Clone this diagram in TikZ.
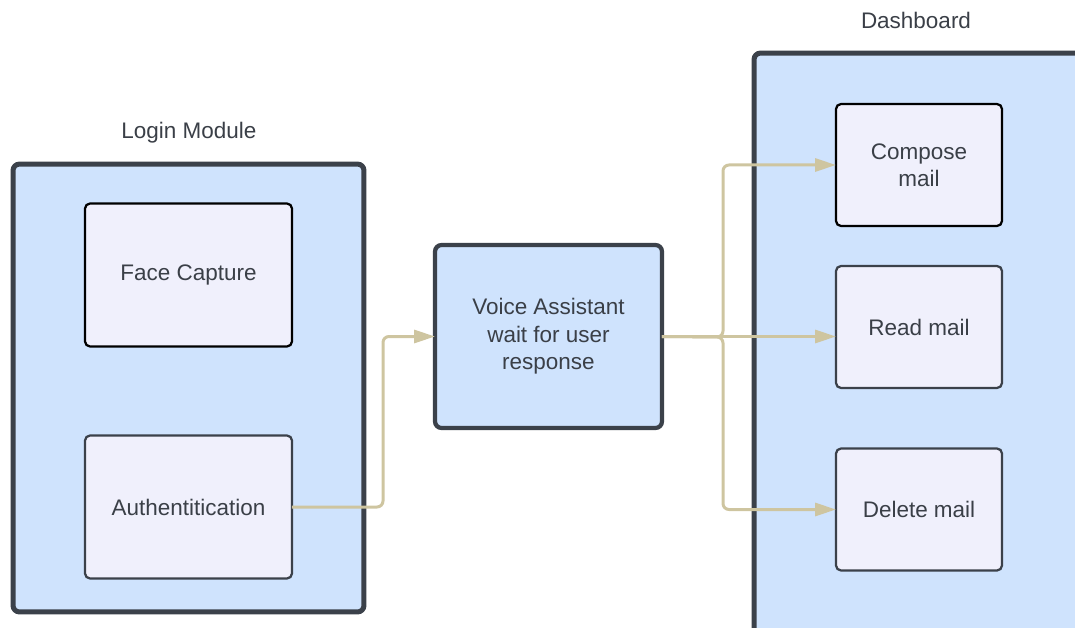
\documentclass[tikz,border=0pt]{standalone}
\usepackage{fontspec}
\setmainfont{Liberation Sans}
\usetikzlibrary{arrows.meta}
\definecolor{panelblue}{HTML}{CFE3FD}
\definecolor{cardfill}{HTML}{F0F0FC}
\definecolor{edgegray}{HTML}{3B414A}
\definecolor{inkgray}{HTML}{3A3F47}
\definecolor{wiretan}{HTML}{CEC5A0}
\begin{document}
\begin{tikzpicture}[x=0.02cm,y=-0.02cm,
    every node/.style={font=\fontsize{12.8}{15.6}\selectfont, text=inkgray, align=center, inner sep=0pt, outer sep=0pt},
    panel/.style={draw=edgegray, fill=panelblue, line width=0.1cm, rounded corners=0.13cm},
    card/.style={draw=edgegray, fill=cardfill, line width=0.045cm, rounded corners=0.1cm},
    cardwide/.style={card, minimum width=4.14cm, minimum height=2.86cm},
    cardsmall/.style={card, minimum width=3.32cm, minimum height=2.44cm},
    wire/.style={draw=wiretan, line width=0.06cm, rounded corners=0.12cm, -{Triangle[length=0.42cm,width=0.26cm]}}]
    \useasboundingbox (0,0) rectangle (1075,628);
    \clip (0,0) rectangle (1075,628);
    % login module
    \node at (189,133) (loginlbl) {Login Module};
    \node[panel, minimum width=7.02cm, minimum height=8.96cm] (login) at (188.5,388) {};
    \node[cardwide, draw=black] (face) at (188.5,275) {Face Capture};
    \node[cardwide] (auth) at (188.5,507) {Authentitication};
    % voice assistant
    \node[panel, line width=0.085cm, minimum width=4.54cm, minimum height=3.66cm] (voice) at (548.5,336.5)
        {Voice Assistant\\wait for user\\response};
    % dashboard
    \node at (916,20) (dashlbl) {Dashboard};
    \node[panel, minimum width=6.82cm, minimum height=12.14cm] (dash) at (924.5,356.5) {};
    \node[cardsmall, draw=black] (compose) at (919,165) {Compose\\mail};
    \node[cardsmall] (read) at (919,327) {Read mail};
    \node[cardsmall] (delete) at (919,509.5) {Delete mail};
    \coordinate (split) at (723,337);
    \draw[wire] (auth.east) -- (383,507) |- (voice.west);
    \draw[wire] (voice.east) -- (split) |- (compose.west);
    \draw[wire] (voice.east) -- (split) |- (delete.west);
    \draw[wire] (voice.east) -- (read.west |- voice.east);
\end{tikzpicture}
\end{document}
